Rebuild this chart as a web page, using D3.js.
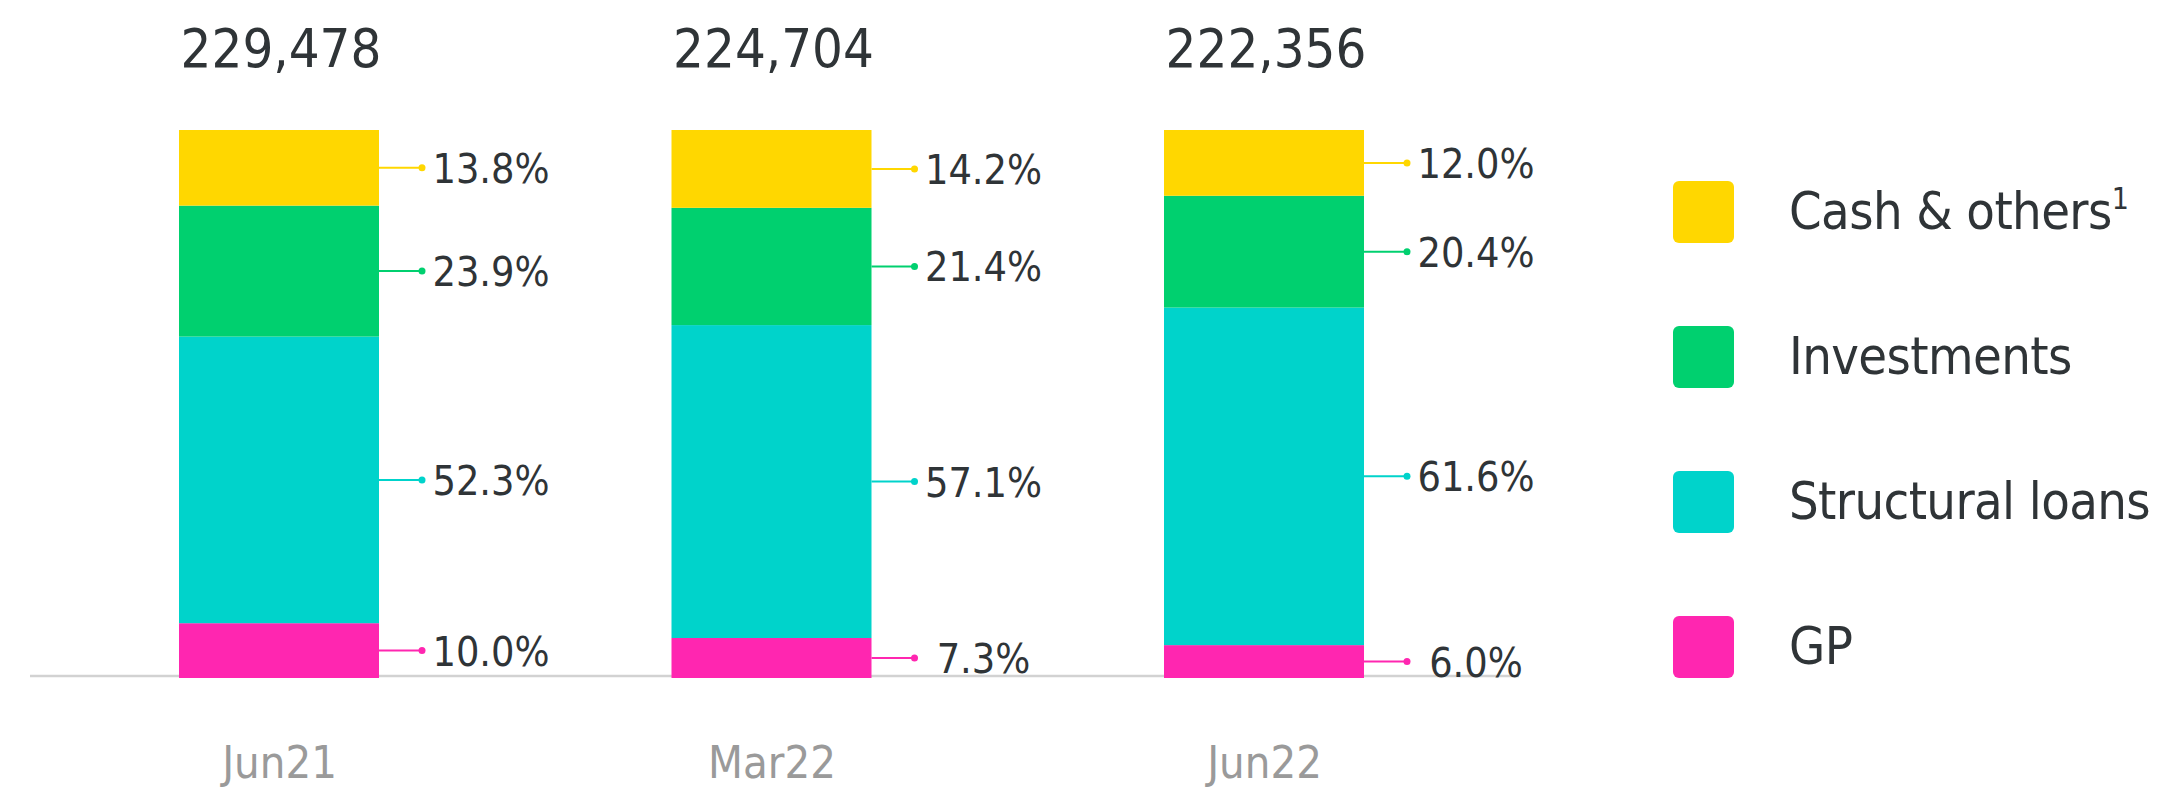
<!DOCTYPE html>
<html>
<head>
<meta charset="utf-8">
<script src="https://cdn.jsdelivr.net/npm/d3@7"></script>
<style>
  body { margin: 0; background: #fff; }
  text { font-family: "DejaVu Sans Condensed", "DejaVu Sans", sans-serif; font-stretch: condensed; }
</style>
</head>
<body>
<script>
// values
const periods = ["Jun21", "Mar22", "Jun22"];
const totals = [229478, 224704, 222356];
const gp = [10.0, 7.3, 6.0];
const structuralLoans = [52.3, 57.1, 61.6];
const investments = [23.9, 21.4, 20.4];
const cashOthers = [13.8, 14.2, 12.0];

const keys = ["gp", "structural", "investments", "cash"];
const names = {gp: "GP", structural: "Structural loans", investments: "Investments", cash: "Cash & others"};
const colors = {gp: "#FF26B0", structural: "#00D3CB", investments: "#00D06F", cash: "#FFD700"};

const width = 2162, height = 790;
const barW = 200;

const rows = periods.map((p, i) => ({
    period: p,
    gp: gp[i],
    structural: structuralLoans[i],
    investments: investments[i],
    cash: cashOthers[i]
}));

const svg = d3.select("body").append("svg")
    .attr("width", width)
    .attr("height", height);

const x = d3.scalePoint()
    .domain(periods)
    .range([279, 1264]);

const y = d3.scaleLinear()
    .domain([0, 100])
    .range([678, 130]);

const stacked = d3.stack().keys(keys)(rows);

// baseline
svg.append("line")
    .attr("x1", 30).attr("x2", 1519)
    .attr("y1", 676).attr("y2", 676)
    .attr("stroke", "#d2d2d2")
    .attr("stroke-width", 2.5);

const layer = svg.selectAll("g.layer")
    .data(stacked)
    .enter()
    .append("g")
    .attr("class", "layer")
    .attr("fill", d => colors[d.key]);

layer.selectAll("rect")
    .data(d => d)
    .enter()
    .append("rect")
    .attr("x", d => x(d.data.period) - barW / 2)
    .attr("width", barW)
    .attr("y", d => y(d[1]))
    .attr("height", d => y(d[0]) - y(d[1]));

// leader lines, dots and labels
const fmt = d3.format(".1f");
stacked.forEach(s => {
    s.forEach(d => {
        const right = x(d.data.period) + barW / 2;
        const cy = (y(d[0]) + y(d[1])) / 2;
        svg.append("line")
            .attr("x1", right).attr("x2", right + 43)
            .attr("y1", cy).attr("y2", cy)
            .attr("stroke", colors[s.key])
            .attr("stroke-width", 2);
        svg.append("circle")
            .attr("cx", right + 43).attr("cy", cy)
            .attr("r", 3.5)
            .attr("fill", colors[s.key]);
        svg.append("text")
            .attr("x", right + 112)
            .attr("y", cy + 15)
            .attr("text-anchor", "middle")
            .attr("font-size", 41)
            .attr("fill", "#2f3437")
            .text(fmt(d.data[s.key]) + "%");
    });
});

// totals on top
svg.selectAll("text.total")
    .data(periods)
    .enter()
    .append("text")
    .attr("class", "total")
    .attr("x", (d, i) => x(d) + 2)
    .attr("y", 67)
    .attr("text-anchor", "middle")
    .attr("font-size", 54)
    .attr("fill", "#2f3437")
    .text((d, i) => d3.format(",")(totals[i]));

// category labels
const xAxis = d3.axisBottom(x).tickSize(0).tickPadding(0);
const gx = svg.append("g")
    .attr("transform", "translate(0, 778)")
    .call(xAxis);
gx.select(".domain").remove();
gx.selectAll("text")
    .attr("dy", 0)
    .attr("font-size", 45)
    .attr("font-family", null)
    .attr("fill", "#9a9a9a");

// legend
const legendKeys = ["cash", "investments", "structural", "gp"];
const legend = svg.selectAll("g.legend")
    .data(legendKeys)
    .enter()
    .append("g")
    .attr("class", "legend")
    .attr("transform", (d, i) => "translate(1673," + (181 + i * 145) + ")");

legend.append("rect")
    .attr("width", 61)
    .attr("height", 62)
    .attr("rx", 6)
    .attr("fill", d => colors[d]);

const lt = legend.append("text")
    .attr("x", 116)
    .attr("y", 48)
    .attr("font-size", 52)
    .attr("letter-spacing", -0.6)
    .attr("fill", "#2f3437")
    .text(d => names[d]);

lt.filter(d => d === "cash")
    .append("tspan")
    .attr("dy", -20)
    .attr("font-size", 30)
    .text("1");
</script>
</body>
</html>
